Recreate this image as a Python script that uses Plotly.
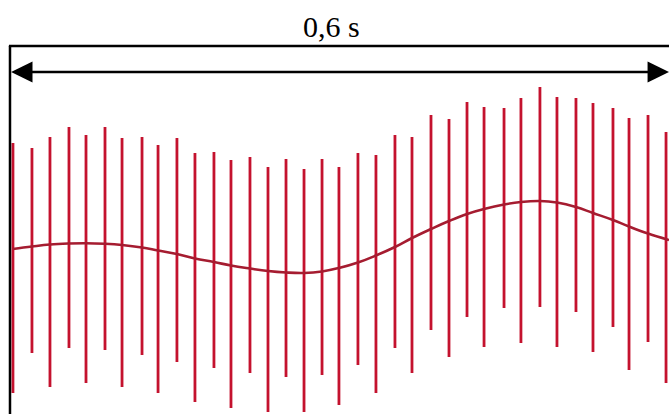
import plotly.graph_objects as go

# ---- data (time in s, amplitude in arbitrary units) ----
pulse_times = [0.0027, 0.0200, 0.0364, 0.0537, 0.0692, 0.0865, 0.1020, 0.1202, 0.1348,
               0.1520, 0.1684, 0.1857, 0.2012, 0.2185, 0.2349, 0.2513, 0.2677, 0.2841,
               0.2995, 0.3168, 0.3332, 0.3505, 0.3660, 0.3833, 0.3997, 0.4161, 0.4316,
               0.4498, 0.4652, 0.4825, 0.4980, 0.5153, 0.5308, 0.5490, 0.5636, 0.5809,
               0.5973]
pulse_tops = [1.17, 1.12, 1.23, 1.33, 1.25, 1.33, 1.22, 1.23, 1.15,
              1.22, 1.07, 1.08, 1.00, 1.03, 0.93, 1.01, 0.91, 1.01,
              0.93, 1.07, 1.05, 1.25, 1.23, 1.45, 1.41, 1.58, 1.53,
              1.52, 1.62, 1.73, 1.63, 1.62, 1.57, 1.52, 1.42, 1.45,
              1.28]
pulse_bottoms = [-1.33, -0.93, -1.27, -0.88, -1.23, -0.90, -1.27, -0.95, -1.33,
                 -1.02, -1.42, -1.08, -1.48, -1.13, -1.52, -1.17, -1.52, -1.15,
                 -1.45, -1.05, -1.33, -0.88, -1.13, -0.70, -0.97, -0.57, -0.87,
                 -0.48, -0.83, -0.47, -0.87, -0.52, -0.92, -0.67, -1.10, -0.82,
                 -1.23]
curve_times = [0.0027, 0.0200, 0.0364, 0.0537, 0.0692, 0.0865, 0.1020, 0.1202, 0.1348,
               0.1520, 0.1684, 0.1857, 0.2012, 0.2185, 0.2349, 0.2513, 0.2677, 0.2841,
               0.2995, 0.3168, 0.3332, 0.3505, 0.3660, 0.3833, 0.3997, 0.4161, 0.4316,
               0.4498, 0.4652, 0.4825, 0.4980, 0.5153, 0.5308, 0.5490, 0.5636, 0.5809,
               0.6000]
curve_values = [0.11, 0.135, 0.155, 0.165, 0.168, 0.162, 0.15, 0.125, 0.095,
                0.06, 0.015, -0.02, -0.055, -0.085, -0.11, -0.125, -0.13, -0.115,
                -0.08, -0.025, 0.045, 0.13, 0.22, 0.31, 0.39, 0.46, 0.51,
                0.555, 0.58, 0.59, 0.575, 0.53, 0.47, 0.40, 0.335, 0.265,
                0.20]
span_start, span_end = 0.0, 0.6
span_label = "0,6 s"

# ---- build figure ----
px_x = []
px_y = []
for t, top, bot in zip(pulse_times, pulse_tops, pulse_bottoms):
    px_x += [t, t, None]
    px_y += [bot, top, None]

fig = go.Figure()
fig.add_trace(go.Scatter(x=px_x, y=px_y, mode="lines",
                         line=dict(color="#c4122e", width=2.8),
                         hoverinfo="skip", showlegend=False))
fig.add_trace(go.Scatter(x=curve_times, y=curve_values, mode="lines",
                         line=dict(color="#a51c30", width=2.6, shape="spline", smoothing=1.2),
                         hoverinfo="skip", showlegend=False))

ARROW_Y = 1.88
HEAD_H = 0.105
HEAD_L = 0.0195
BORDER_Y = 2.14
BOTTOM_Y = -1.54
shapes = [
    dict(type="line", xref="x", yref="y", x0=span_start - 0.001, x1=span_end,
         y0=BORDER_Y, y1=BORDER_Y, line=dict(color="black", width=2.5)),
    dict(type="line", xref="x", yref="y", x0=span_start, x1=span_start,
         y0=BORDER_Y, y1=BOTTOM_Y, line=dict(color="black", width=2.5)),
    dict(type="line", xref="x", yref="y", x0=span_start + HEAD_L * 0.5, x1=span_end - HEAD_L * 0.5,
         y0=ARROW_Y, y1=ARROW_Y, line=dict(color="black", width=2.5)),
    dict(type="path", xref="x", yref="y",
         path=f"M {span_start + 0.001} {ARROW_Y} L {span_start + 0.001 + HEAD_L} {ARROW_Y + HEAD_H} "
              f"L {span_start + 0.001 + HEAD_L} {ARROW_Y - HEAD_H} Z",
         fillcolor="black", line=dict(color="black", width=0)),
    dict(type="path", xref="x", yref="y",
         path=f"M {span_end} {ARROW_Y} L {span_end - HEAD_L} {ARROW_Y + HEAD_H} "
              f"L {span_end - HEAD_L} {ARROW_Y - HEAD_H} Z",
         fillcolor="black", line=dict(color="black", width=0)),
]

fig.update_layout(
    width=669, height=414,
    margin=dict(l=0, r=0, t=0, b=0),
    paper_bgcolor="white", plot_bgcolor="white",
    shapes=shapes,
    annotations=[dict(x=(span_start + span_end) / 2 - 0.007, y=2.34, xref="x", yref="y",
                      text=span_label, showarrow=False,
                      font=dict(family="Liberation Serif", size=30, color="black"))],
    xaxis=dict(range=[-0.0091, 0.6], visible=False, fixedrange=True),
    yaxis=dict(range=[-1.54, 2.60], visible=False, fixedrange=True),
)

fig.write_html("out.html")
